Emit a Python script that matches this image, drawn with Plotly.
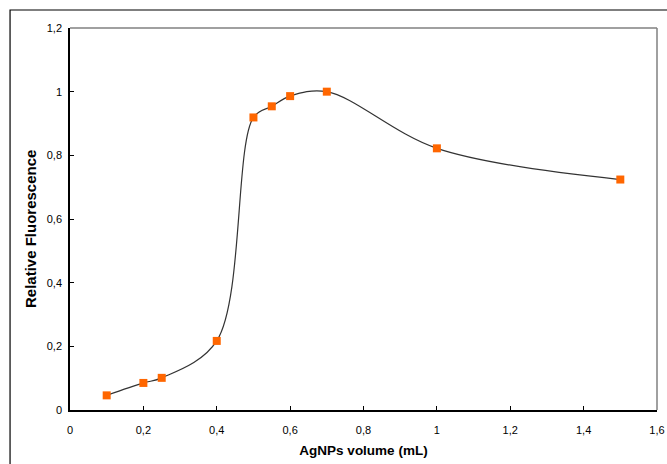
import plotly.graph_objects as go

volume_ml = [0.1, 0.2, 0.25, 0.4, 0.5, 0.55, 0.6, 0.7, 1.0, 1.5]
rel_fluor = [0.046, 0.085, 0.101, 0.217, 0.919, 0.954, 0.986, 1.0, 0.822, 0.724]

x_ticks = [0, 0.2, 0.4, 0.6, 0.8, 1.0, 1.2, 1.4, 1.6]
x_labels = ["0", "0,2", "0,4", "0,6", "0,8", "1", "1,2", "1,4", "1,6"]
y_ticks = [0, 0.2, 0.4, 0.6, 0.8, 1.0, 1.2]
y_labels = ["0", "0,2", "0,4", "0,6", "0,8", "1", "1,2"]

FONT = "Liberation Sans, Arial, sans-serif"

fig = go.Figure()
fig.add_trace(go.Scatter(
    x=volume_ml, y=rel_fluor, mode="lines",
    line=dict(color="#333333", width=1.2, shape="spline", smoothing=1.0),
    hoverinfo="skip", showlegend=False,
))
fig.add_trace(go.Scatter(
    x=volume_ml, y=rel_fluor, mode="markers",
    marker=dict(symbol="square", size=8, color="#FF6600"),
    showlegend=False,
))

L, R, T, B = 70, 9.5, 28, 54
W, H = 667, 464
pw, ph = W - L - R, H - T - B

fig.update_layout(
    width=W, height=H,
    margin=dict(l=L, r=R, t=T, b=B, autoexpand=False),
    paper_bgcolor="white", plot_bgcolor="white",
    font=dict(family=FONT, size=11, color="black"),
    xaxis=dict(
        range=[0, 1.6], tickvals=x_ticks, ticktext=x_labels, automargin=False,
        showgrid=False, zeroline=False, showline=True, linecolor="black", linewidth=1.5,
        ticks="inside", ticklen=4, tickcolor="black", tickwidth=1,
        ticklabelstandoff=9,
        title=dict(text="<b>AgNPs volume (mL)</b>", font=dict(size=13.5), standoff=11),
    ),
    yaxis=dict(
        range=[0, 1.2], tickvals=y_ticks, ticktext=y_labels, automargin=False,
        showgrid=False, zeroline=False, showline=True, linecolor="black", linewidth=1.5,
        ticks="inside", ticklen=4, tickcolor="black", tickwidth=1,
        ticklabelstandoff=4,
    ),
    annotations=[
        dict(text="<b>Relative Fluorescence</b>", xref="paper", yref="paper",
             x=(30 - L) / pw, y=((H - B) - 229) / ph, xanchor="center", yanchor="middle",
             textangle=-90, showarrow=False, font=dict(size=15)),
    ],
    shapes=[
        dict(type="line", xref="paper", yref="paper", x0=0, x1=1, y0=1, y1=1,
             line=dict(color="#808080", width=1.5)),
        dict(type="line", xref="paper", yref="paper", x0=1, x1=1, y0=0, y1=1,
             line=dict(color="#808080", width=1.5)),
        dict(type="rect", xref="paper", yref="paper",
             x0=(10 - L) / pw, x1=(W + 5 - L) / pw,
             y0=-(H + 5 - (H - B)) / ph, y1=((H - B) - 10) / ph,
             line=dict(color="black", width=1.2), layer="below"),
    ],
)

fig.write_html("out.html")
